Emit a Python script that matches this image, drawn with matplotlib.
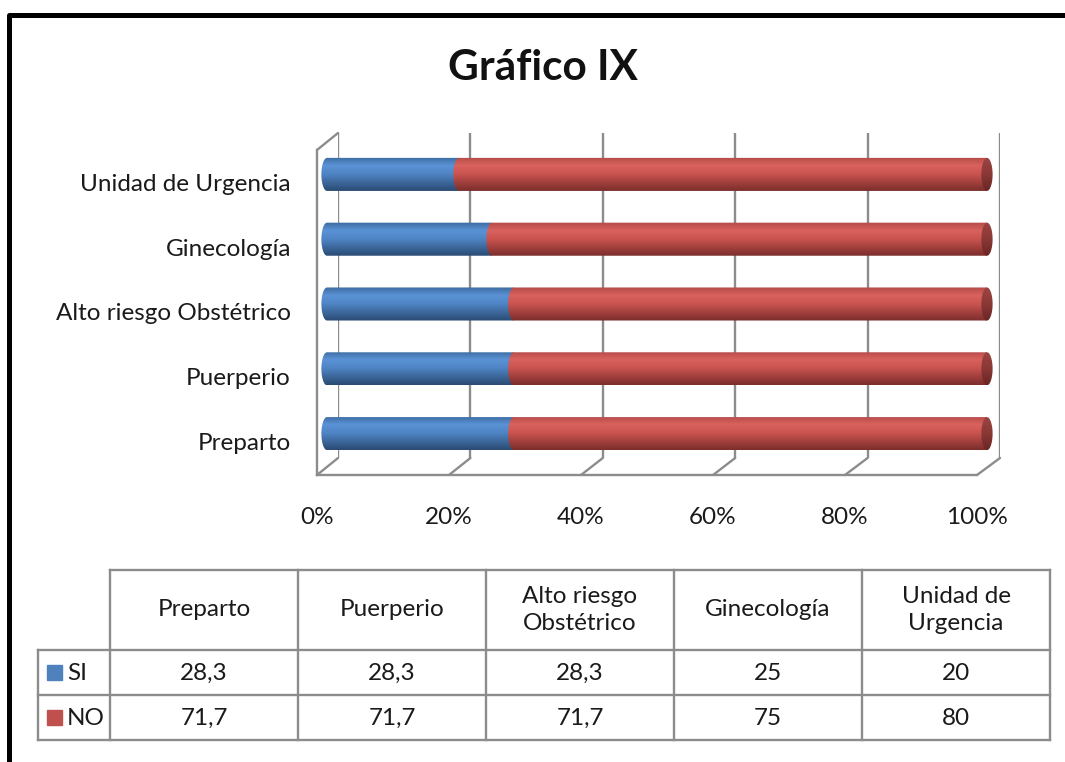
import textwrap

import matplotlib

matplotlib.use("Agg")
import matplotlib.pyplot as plt
import numpy as np
from matplotlib.colors import LinearSegmentedColormap
from matplotlib.patches import ConnectionPatch, Rectangle
from matplotlib.path import Path
from matplotlib.transforms import offset_copy

# data (bottom to top in the chart, left to right in the table)
categories = ["Preparto", "Puerperio", "Alto riesgo Obstétrico", "Ginecología", "Unidad de Urgencia"]
si_values = [28.3, 28.3, 28.3, 25, 20]
no_values = [71.7, 71.7, 71.7, 75, 80]
series_names = ["SI", "NO"]
x_ticks = [0, 20, 40, 60, 80, 100]

W, H = 1065, 762
plt.rcParams["font.family"] = ["Lato", "DejaVu Sans"]
FS = 17.5
GRID = "#8c8c8c"
TXT = "#1a1a1a"

blue_cm = LinearSegmentedColormap.from_list(
    "blue", [(0, "#3d6aa0"), (0.25, "#5a93d6"), (0.5, "#4f84c4"), (1, "#2a4a72")])
red_cm = LinearSegmentedColormap.from_list(
    "red", [(0, "#b44b48"), (0.25, "#da625e"), (0.5, "#c9534f"), (1, "#7a2d2b")])
cap_cm = LinearSegmentedColormap.from_list(
    "cap", [(0, "#9c4643"), (0.5, "#8a3836"), (1, "#6a2624")])


def px_axes(fig, x0, x1, y0, y1):
    # y0 = top pixel, y1 = bottom pixel
    return fig.add_axes([x0 / W, 1 - y1 / H, (x1 - x0) / W, (y1 - y0) / H])


def gradient_fill(ax, path, extent, cmap, z):
    grad = np.linspace(0, 1, 256).reshape(-1, 1)
    im = ax.imshow(grad, cmap=cmap, aspect="auto", extent=extent, origin="upper", zorder=z)
    im.set_clip_path(path, transform=ax.transData)


def cylinder(ax, patch, cmap, rx):
    x0, w = patch.get_x(), patch.get_width()
    y0, h = patch.get_y(), patch.get_height()
    yc, ry = y0 + h / 2, h / 2
    t = np.linspace(np.pi / 2, 3 * np.pi / 2, 40)
    verts = list(zip(x0 + rx * np.cos(t), yc + ry * np.sin(t)))
    verts += [(x0 + w, y0), (x0 + w, y0 + h), verts[0]]
    gradient_fill(ax, Path(verts, closed=True), [x0 - rx, x0 + w, y0, y0 + h], cmap, 2)


def end_cap(ax, x, yc, h, rx):
    t = np.linspace(0, 2 * np.pi, 60)
    path = Path(list(zip(x + rx * np.cos(t), yc + h / 2 * np.sin(t))), closed=True)
    gradient_fill(ax, path, [x - rx, x + rx, yc - h / 2, yc + h / 2], cap_cm, 3)


fig = plt.figure(figsize=(W / 100, H / 100), dpi=100)

# back wall (gridlines)
ax_back = px_axes(fig, 338, 1000, 133, 458)
ax_back.set_xlim(0, 100)
ax_back.axis("off")
for v in x_ticks:
    ax_back.axvline(v, color=GRID, lw=1.7)

# bars: 0 -> 327 px, 100 -> 987 px, with a small margin for the rounded ends
ax = px_axes(fig, 313.8, 1000.2, 142, 466)
ax.patch.set_alpha(0)
y = np.arange(len(categories))
bars_si = ax.barh(y, si_values, height=0.51, alpha=0)
bars_no = ax.barh(y, no_values, left=si_values, height=0.51, alpha=0)
rx = 0.85
for p in bars_si:
    cylinder(ax, p, blue_cm, rx)
for p in bars_no:
    cylinder(ax, p, red_cm, rx)
    end_cap(ax, p.get_x() + p.get_width(), p.get_y() + p.get_height() / 2, p.get_height(), rx)
ax.set_xlim(-2, 102)
ax.set_ylim(-0.5, len(categories) - 0.5)
ax.set_xticks([])
ax.set_yticks([])
for s in ax.spines.values():
    s.set_visible(False)
lab_tr = offset_copy(ax.transData, fig, x=-36, y=-10, units="dots")
for yi, c in zip(y, categories):
    ax.text(0, yi, c, transform=lab_tr, ha="right", va="center", fontsize=FS, color=TXT)

# front edge of the floor and left wall
ax_front = px_axes(fig, 317, 977, 150, 475)
ax_front.patch.set_alpha(0)
ax_front.set_xlim(0, 100)
ax_front.set_yticks([])
ax_front.set_xticks(x_ticks, [f"{v}%" for v in x_ticks], fontsize=FS, color=TXT)
ax_front.tick_params(axis="x", length=0, pad=23)
for k in ["top", "right"]:
    ax_front.spines[k].set_visible(False)
for k in ["bottom", "left"]:
    ax_front.spines[k].set_color(GRID)
    ax_front.spines[k].set_linewidth(1.7)
for v in x_ticks:
    fig.add_artist(ConnectionPatch((v, 0), (v, 0), coordsA=ax_back.get_xaxis_transform(),
                                   coordsB=ax_front.get_xaxis_transform(), color=GRID, lw=1.7))
fig.add_artist(ConnectionPatch((0, 1), (0, 1), coordsA=ax_back.get_xaxis_transform(),
                               coordsB=ax_front.get_xaxis_transform(), color=GRID, lw=1.7))

fig.text(543 / W, 1 - 68 / H, "Gráfico IX", ha="center", va="center", fontsize=30.5,
         fontweight="bold", color="#111111")

# data table and outer frame, drawn on a pixel overlay
ov = fig.add_axes([0, 0, 1, 1])
ov.set_xlim(0, W)
ov.set_ylim(H, 0)
ov.axis("off")
ov.patch.set_alpha(0)
ov.plot([9, 9, W], [H, 15, 15], color="black", lw=3.6, solid_capstyle="butt")

col_x = np.linspace(110, 1050, len(categories) + 1)
row_y = [570, 650, 695, 740]
tl = dict(color=GRID, lw=1.7)
ov.plot([col_x[0], col_x[-1]], [row_y[0], row_y[0]], **tl)
for yy in row_y[1:]:
    ov.plot([38, col_x[-1]], [yy, yy], **tl)
ov.plot([38, 38], [row_y[1], row_y[-1]], **tl)
for xx in col_x:
    ov.plot([xx, xx], [row_y[0], row_y[-1]], **tl)

for i, c in enumerate(categories):
    xc = (col_x[i] + col_x[i + 1]) / 2
    ov.text(xc, (row_y[0] + row_y[1]) / 2, textwrap.fill(c, 12), ha="center", va="center",
            fontsize=FS, linespacing=1.3, color=TXT)
    for r, vals in enumerate([si_values, no_values]):
        ov.text(xc, (row_y[r + 1] + row_y[r + 2]) / 2 + 1, f"{vals[i]:g}".replace(".", ","),
                ha="center", va="center", fontsize=FS, color=TXT)

for r, (name, col) in enumerate(zip(series_names, ["#4f81bd", "#c0504d"])):
    yc = (row_y[r + 1] + row_y[r + 2]) / 2
    ov.add_patch(Rectangle((47, yc - 7.5), 15, 15, color=col))
    ov.text(67, yc + 1, name, ha="left", va="center", fontsize=FS, color=TXT)

fig.savefig("out.png", dpi=100)
